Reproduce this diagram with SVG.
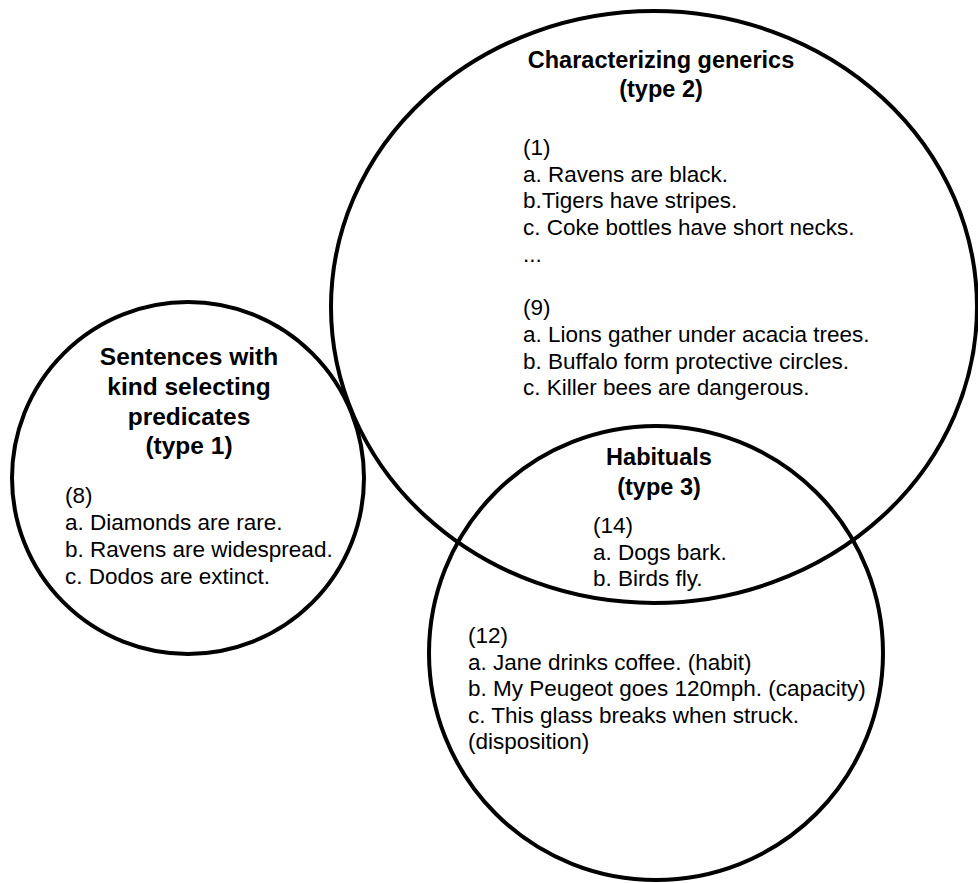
<svg xmlns="http://www.w3.org/2000/svg" width="978" height="883" viewBox="0 0 978 883">
<style>
.c{fill:none;stroke:#000;stroke-width:4}
text{font-family:"Liberation Sans",Arial,Helvetica,sans-serif;fill:#000}
.t{font-weight:bold;font-size:23.5px;text-anchor:middle}
.t1{font-weight:bold;font-size:24.5px;text-anchor:middle}
.b{font-size:22.5px}
</style>
<rect width="978" height="883" fill="#fff"/>
<g id="type2">
<ellipse class="c" cx="654" cy="307" rx="323" ry="296"/>
<text class="t" x="661" y="68">Characterizing generics</text>
<text class="t" x="661" y="97">(type 2)</text>
<text class="b" x="523" y="155">(1)</text>
<text class="b" x="523" y="181.7">a. Ravens are black.</text>
<text class="b" x="523" y="208.4">b.Tigers have stripes.</text>
<text class="b" x="523" y="235">c. Coke bottles have short necks.</text>
<text class="b" x="523" y="261.8">...</text>
<text class="b" x="523" y="315.2">(9)</text>
<text class="b" x="523" y="342">a. Lions gather under acacia trees.</text>
<text class="b" x="523" y="368.6">b. Buffalo form protective circles.</text>
<text class="b" x="523" y="395.3">c. Killer bees are dangerous.</text>
</g>
<g id="type1">
<circle class="c" cx="188" cy="478" r="176"/>
<text class="t1" x="189" y="365">Sentences with</text>
<text class="t1" x="189" y="395">kind selecting</text>
<text class="t1" x="189" y="425">predicates</text>
<text class="t1" x="189" y="454">(type 1)</text>
<text class="b" x="65" y="503">(8)</text>
<text class="b" x="65" y="530">a. Diamonds are rare.</text>
<text class="b" x="65" y="557">b. Ravens are widespread.</text>
<text class="b" x="65" y="584">c. Dodos are extinct.</text>
</g>
<g id="type3">
<circle class="c" cx="656" cy="653" r="227"/>
<text class="t" x="659" y="465">Habituals</text>
<text class="t" x="659" y="495">(type 3)</text>
<text class="b" x="593" y="533">(14)</text>
<text class="b" x="593" y="560">a. Dogs bark.</text>
<text class="b" x="593" y="586">b. Birds fly.</text>
<text class="b" x="468" y="643">(12)</text>
<text class="b" x="468" y="669.5">a. Jane drinks coffee. (habit)</text>
<text class="b" x="468" y="696">b. My Peugeot goes 120mph. (capacity)</text>
<text class="b" x="468" y="722.5">c. This glass breaks when struck.</text>
<text class="b" x="468" y="749">(disposition)</text>
</g>
<g id="connectors"></g>
</svg>
